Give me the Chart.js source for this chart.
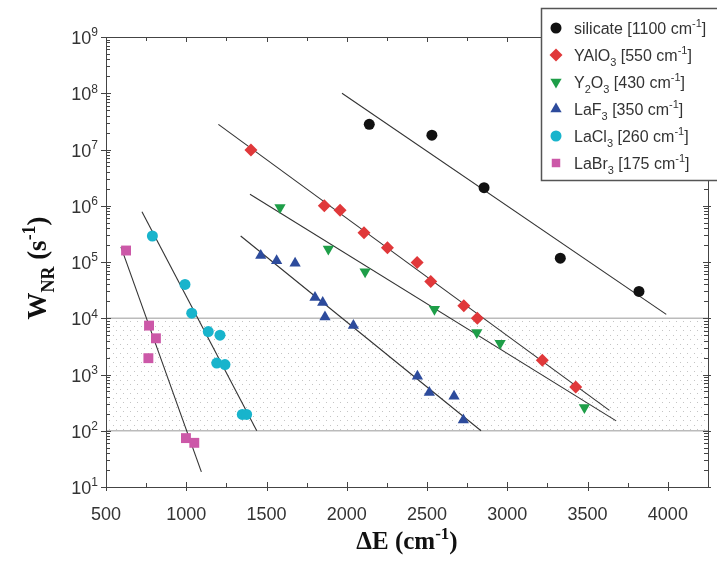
<!DOCTYPE html>
<html>
<head>
<meta charset="utf-8">
<script src="https://cdn.jsdelivr.net/npm/chart.js@4.4.1/dist/chart.umd.min.js"></script>
<style>
  body { margin: 0; background: #fff; }
  canvas { display: block; }
</style>
</head>
<body>
<canvas id="wnrChart" width="717" height="561"></canvas>
<script>
// legend names, {_x} = subscript, {^x} = superscript
const seriesNames = [
    "silicate [1100 cm{^-1}]",
    "YAlO{_3} [550 cm{^-1}]",
    "Y{_2}O{_3} [430 cm{^-1}]",
    "LaF{_3} [350 cm{^-1}]",
    "LaCl{_3} [260 cm{^-1}]",
    "LaBr{_3} [175 cm{^-1}]"
];

// measured points
const siliX = [2140, 2530, 2855, 3330, 3820];
const siliY = [2.8e7, 1.8e7, 2.1e6, 1.17e5, 3.0e4];
const yaloX = [1403, 1860, 1958, 2107, 2253, 2438, 2523, 2729, 2813, 3218, 3426];
const yaloY = [9.8e6, 1.0e6, 8.3e5, 3.3e5, 1.8e5, 9.8e4, 4.5e4, 1.66e4, 1.0e4, 1.8e3, 6.0e2];
const y2o3X = [1584, 1885, 2114, 2546, 2810, 2955, 3480];
const y2o3Y = [9.3e5, 1.7e5, 6.7e4, 1.45e4, 5.6e3, 3.6e3, 2.6e2];
const laf3X = [1464, 1563, 1678, 1802, 1850, 1864, 2041, 2440, 2514, 2668, 2726];
const laf3Y = [1.3e5, 1.05e5, 9.5e4, 2.35e4, 1.9e4, 1.05e4, 7.4e3, 9.3e2, 4.8e2, 4.1e2, 1.55e2];
const lacl3X = [789, 992, 1034, 1137, 1210, 1190, 1241, 1349, 1376];
const lacl3Y = [2.9e5, 4.0e4, 1.23e4, 5.8e3, 5.0e3, 1.6e3, 1.5e3, 1.95e2, 1.95e2];
const labr3X = [625, 768, 811, 764, 998, 1050];
const labr3Y = [1.6e5, 7.4e3, 4.4e3, 1.95e3, 74, 61];

// fitted lines (end points)
const siliFitX = [1970, 3990];
const siliFitY = [1.0e8, 1.17e4];
const yaloFitX = [1200, 3636];
const yaloFitY = [2.8e7, 2.3e2];
const y2o3FitX = [1397, 3678];
const y2o3FitY = [1.6e6, 1.5e2];
const laf3FitX = [1339, 2836];
const laf3FitY = [2.9e5, 1.0e2];
const lacl3FitX = [724, 1439];
const lacl3FitY = [7.8e5, 1.0e2];
const labr3FitX = [593, 1094];
const labr3FitY = [1.86e5, 18.6];

// shaded band
const bandLow = 1e2;
const bandHigh = 1e4;

// axes
const xTicks = [500, 1000, 1500, 2000, 2500, 3000, 3500, 4000];
const yExponents = [1, 2, 3, 4, 5, 6, 7, 8, 9];

const toPts = (xs, ys) => xs.map((x, i) => ({ x: x, y: ys[i] }));

const markers = [
    { style: "circle", color: "#111111", r: 5.5 },
    { style: "rectRot", color: "#e0383a", r: 6.5 },
    { style: "triangle", color: "#1e9e48", r: 6.5, rot: 180 },
    { style: "triangle", color: "#2d4b9c", r: 6.5 },
    { style: "circle", color: "#18b4cc", r: 5.5 },
    { style: "rect", color: "#cc58a8", r: 7 }
];

const pointSets = [
    toPts(siliX, siliY), toPts(yaloX, yaloY), toPts(y2o3X, y2o3Y),
    toPts(laf3X, laf3Y), toPts(lacl3X, lacl3Y), toPts(labr3X, labr3Y)
];
const fitSets = [
    toPts(siliFitX, siliFitY), toPts(yaloFitX, yaloFitY), toPts(y2o3FitX, y2o3FitY),
    toPts(laf3FitX, laf3FitY), toPts(lacl3FitX, lacl3FitY), toPts(labr3FitX, labr3FitY)
];

const datasets = [];
fitSets.forEach((d) => {
    datasets.push({
        data: d, showLine: true, pointRadius: 0,
        borderColor: "#333", borderWidth: 1.1, order: 2
    });
});
pointSets.forEach((d, i) => {
    const m = markers[i];
    datasets.push({
        label: seriesNames[i], data: d, showLine: false,
        pointStyle: m.style, pointRadius: m.r, pointRotation: m.rot || 0,
        backgroundColor: m.color, borderColor: m.color, borderWidth: 0, order: 1
    });
});

// draw text with {_x} / {^x} pieces
function richText(ctx, str, x, y, size, family, weight, align) {
    const parts = [];
    const re = /\{([_^])([^}]*)\}/g;
    let last = 0, m;
    while ((m = re.exec(str)) !== null) {
        if (m.index > last) parts.push({ t: str.slice(last, m.index), k: "" });
        parts.push({ t: m[2], k: m[1] });
        last = re.lastIndex;
    }
    if (last < str.length) parts.push({ t: str.slice(last), k: "" });
    const fontFor = (k) => `${weight} ${k ? Math.round(size * 0.68) : size}px ${family}`;
    let w = 0;
    parts.forEach(p => { ctx.font = fontFor(p.k); w += ctx.measureText(p.t).width; });
    let cx = align === "center" ? x - w / 2 : (align === "right" ? x - w : x);
    ctx.textAlign = "left";
    ctx.textBaseline = "alphabetic";
    parts.forEach(p => {
        ctx.font = fontFor(p.k);
        const dy = p.k === "_" ? size * 0.3 : (p.k === "^" ? -size * 0.42 : 0);
        ctx.fillText(p.t, cx, y + dy);
        cx += ctx.measureText(p.t).width;
    });
}

const bandPlugin = {
    id: "bandPlugin",
    beforeDatasetsDraw(chart) {
        const { ctx, chartArea, scales } = chart;
        const yTop = scales.y.getPixelForValue(bandHigh);
        const yBot = scales.y.getPixelForValue(bandLow);
        const pc = document.createElement("canvas");
        pc.width = 7; pc.height = 9;
        const p = pc.getContext("2d");
        p.fillStyle = "#c4c4c4";
        p.fillRect(1, 2, 1, 1);
        p.fillRect(4, 6, 1, 1);
        ctx.save();
        ctx.fillStyle = ctx.createPattern(pc, "repeat");
        ctx.fillRect(chartArea.left, yTop, chartArea.right - chartArea.left, yBot - yTop);
        ctx.strokeStyle = "#bbbbbb";
        ctx.lineWidth = 1.5;
        [yTop, yBot].forEach(yy => {
            ctx.beginPath();
            ctx.moveTo(chartArea.left, yy);
            ctx.lineTo(chartArea.right, yy);
            ctx.stroke();
        });
        ctx.restore();
    }
};

const framePlugin = {
    id: "framePlugin",
    afterDraw(chart) {
        const { ctx, chartArea, scales } = chart;
        const { left, right, top, bottom } = chartArea;
        ctx.save();
        ctx.strokeStyle = "#444";
        ctx.lineWidth = 1;
        ctx.strokeRect(left + 0.5, top + 0.5, right - left, bottom - top);

        // x ticks, bottom and top
        ctx.beginPath();
        xTicks.forEach(v => {
            const px = Math.round(scales.x.getPixelForValue(v)) + 0.5;
            ctx.moveTo(px, bottom + 4); ctx.lineTo(px, bottom - 5);
            ctx.moveTo(px, top); ctx.lineTo(px, top + 5);
            const pm = Math.round(scales.x.getPixelForValue(v + 250)) + 0.5;
            if (v + 250 < scales.x.max) {
                ctx.moveTo(pm, bottom); ctx.lineTo(pm, bottom - 4);
                ctx.moveTo(pm, top); ctx.lineTo(pm, top + 4);
            }
        });
        // y ticks, left and right
        yExponents.forEach(e => {
            const py = Math.round(scales.y.getPixelForValue(Math.pow(10, e))) + 0.5;
            ctx.moveTo(left - 5, py); ctx.lineTo(left + 5, py);
            ctx.moveTo(right + 3, py); ctx.lineTo(right - 5, py);
            if (e < 9) {
                for (let k = 2; k <= 9; k++) {
                    const pk = Math.round(scales.y.getPixelForValue(k * Math.pow(10, e))) + 0.5;
                    ctx.moveTo(left, pk); ctx.lineTo(left + 4, pk);
                    ctx.moveTo(right, pk); ctx.lineTo(right - 4, pk);
                }
            }
        });
        ctx.stroke();

        // y tick labels 10^n
        ctx.fillStyle = "#333";
        yExponents.forEach(e => {
            const py = scales.y.getPixelForValue(Math.pow(10, e));
            richText(ctx, "10{^" + e + "}", left - 8, py + 7, 18, "'Liberation Sans', Arial", "normal", "right");
        });

        // axis titles
        ctx.fillStyle = "#111";
        richText(ctx, "\u0394E (cm{^-1})", (left + right) / 2, 549, 25, "'Liberation Serif', 'Times New Roman'", "bold", "center");
        ctx.save();
        ctx.translate(46, (top + bottom) / 2 + 6);
        ctx.rotate(-Math.PI / 2);
        richText(ctx, "W{_NR} (s{^-1})", 0, 0, 27, "'Liberation Serif', 'Times New Roman'", "bold", "center");
        ctx.restore();

        // legend box
        const lx = 541, ly = 8, lw = 180, lh = 172;
        ctx.fillStyle = "#fff";
        ctx.fillRect(lx, ly, lw, lh);
        ctx.strokeStyle = "#555";
        ctx.lineWidth = 1.5;
        ctx.strokeRect(lx + 0.5, ly + 0.5, lw, lh);
        chart.data.datasets.forEach((ds, i) => {
            if (!ds.label) return;
            const row = i - fitSets.length;
            const ry = 28 + row * 27;
            ctx.fillStyle = ds.backgroundColor;
            ctx.strokeStyle = ds.backgroundColor;
            Chart.helpers.drawPoint(ctx, {
                pointStyle: ds.pointStyle, radius: ds.pointStyle === "rect" ? 6 : ds.pointRadius,
                rotation: ds.pointRotation, borderWidth: 0
            }, 556, ry);
            ctx.fillStyle = "#333";
            richText(ctx, ds.label, 574, ry + 6, 16, "'Liberation Sans', Arial", "normal", "left");
        });
        ctx.restore();
    }
};

const chart = new Chart(document.getElementById("wnrChart"), {
    type: "scatter",
    data: { datasets: datasets },
    options: {
        responsive: false,
        animation: false,
        events: [],
        layout: { padding: { top: 37, right: 9, left: 0, bottom: 0 } },
        plugins: { legend: { display: false }, tooltip: { enabled: false } },
        scales: {
            x: {
                type: "linear", min: 500, max: 4250,
                grid: { display: false },
                border: { color: "#444" },
                ticks: {
                    padding: 9, color: "#333", maxRotation: 0,
                    font: { family: "'Liberation Sans', Arial", size: 18 },
                    callback: (v) => String(v)
                },
                afterBuildTicks(s) { s.ticks = xTicks.map(v => ({ value: v })); },
                afterFit(s) { s.height = 74; }
            },
            y: {
                type: "logarithmic", min: 10, max: 1e9,
                grid: { display: false },
                border: { color: "#444" },
                ticks: { display: false },
                afterFit(s) { s.width = 106; }
            }
        }
    },
    plugins: [bandPlugin, framePlugin]
});
</script>
</body>
</html>
